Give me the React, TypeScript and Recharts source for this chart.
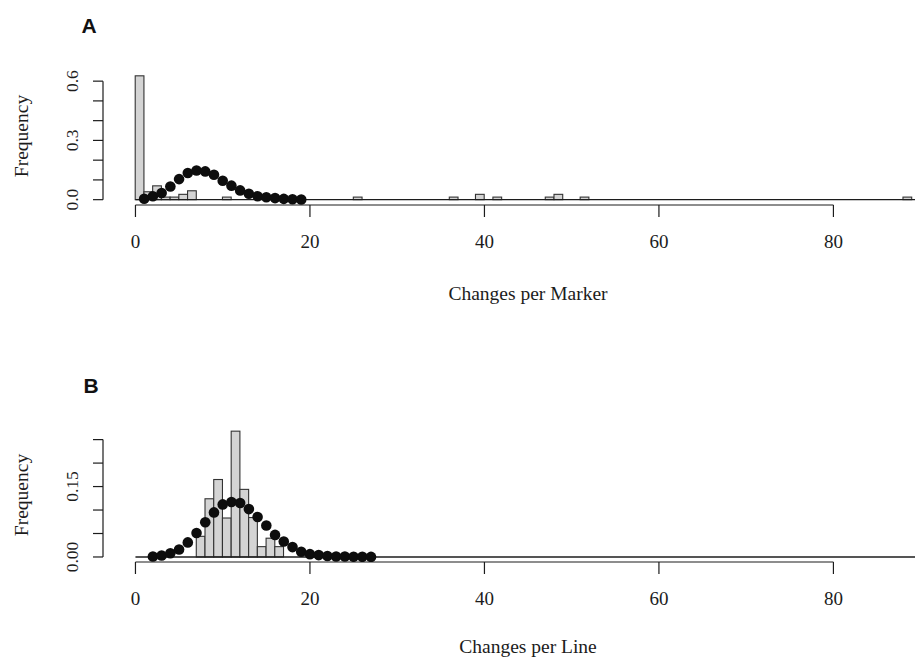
import React from 'react';
import { ComposedChart, Bar, Scatter, XAxis, YAxis, ReferenceLine } from 'recharts';

// Panel A: changes per marker (bin start, frequency)
const markerBins = [0, 1, 2, 3, 4, 5, 6, 10, 25, 36, 39, 41, 47, 48, 51, 88];
const markerFreq = [0.627, 0.04, 0.07, 0.013, 0.013, 0.027, 0.045, 0.013, 0.013, 0.013, 0.027, 0.013, 0.013, 0.027, 0.013, 0.013];
// fitted distribution shown as dots
const markerFitX = [1, 2, 3, 4, 5, 6, 7, 8, 9, 10, 11, 12, 13, 14, 15, 16, 17, 18, 19];
const markerFitY = [0.005, 0.017, 0.034, 0.067, 0.104, 0.135, 0.148, 0.143, 0.126, 0.096, 0.071, 0.047, 0.03, 0.017, 0.012, 0.008, 0.004, 0.002, 0.001];

// Panel B: changes per line
const lineBins = [7, 8, 9, 10, 11, 12, 13, 14, 15, 16];
const lineFreq = [0.044, 0.124, 0.165, 0.083, 0.268, 0.144, 0.084, 0.022, 0.04, 0.022];
const lineFitX = [2, 3, 4, 5, 6, 7, 8, 9, 10, 11, 12, 13, 14, 15, 16, 17, 18, 19, 20, 21, 22, 23, 24, 25, 26, 27];
const lineFitY = [0.001, 0.003, 0.008, 0.016, 0.031, 0.051, 0.074, 0.095, 0.112, 0.117, 0.115, 0.102, 0.085, 0.067, 0.047, 0.033, 0.021, 0.011, 0.006, 0.004, 0.002, 0.001, 0.001, 0.0005, 0.0003, 0.0002];

const xTicks = [0, 20, 40, 60, 80];
const markerYTicks = [0, 0.1, 0.2, 0.3, 0.4, 0.5, 0.6];
const markerYLabels: Record<string, string> = { '0': '0.0', '0.3': '0.3', '0.6': '0.6' };
const lineYTicks = [0, 0.05, 0.1, 0.15, 0.2, 0.25];
const lineYLabels: Record<string, string> = { '0': '0.00', '0.15': '0.15' };

const XMIN = -3.72;
const XMAX = 89.35;
const PLOT_W = 915 - 103;
const BIN_PX = PLOT_W / (XMAX - XMIN); // one unit-wide bin in pixels
const SERIF = '"Liberation Serif", "Times New Roman", serif';
const INK = '#1c1c1c';

const hist = (bins: number[], freq: number[]) => bins.map((b, i) => ({ mid: b + 0.5, freq: freq[i] }));
const fit = (xs: number[], ys: number[]) => xs.map((x, i) => ({ mid: x, fit: ys[i] }));

const Dot = (props: any) => <circle cx={props.cx} cy={props.cy} r={5.3} fill="#0d0d0d" />;

// bar centred on the scaled bin midpoint, full bin width
const HistBar = (props: any) => {
  const { x, width, y, height } = props;
  if (height == null || isNaN(height)) return <g />;
  const cx = x + width / 2;
  return <rect x={cx - BIN_PX / 2} y={y} width={BIN_PX} height={height} fill="#d4d4d4" stroke="#333" strokeWidth={1.1} />;
};

const makeYTick = (labels: Record<string, string>) => (props: any) => {
  const { x, y, payload } = props;
  const lab = labels[String(payload.value)];
  if (!lab) return <g />;
  const bx = x - 13;
  return (
    <text x={bx} y={y} transform={`rotate(-90 ${bx} ${y})`} textAnchor="middle" fontSize={17.5} fontFamily={SERIF} fill={INK}>
      {lab}
    </text>
  );
};

interface PanelProps {
  top: number;
  height: number;
  marginTop: number;
  xAxisHeight: number;
  yDomain: [number, number];
  yTicks: number[];
  yLabels: Record<string, string>;
  bars: { mid: number; freq: number }[];
  dots: { mid: number; fit: number }[];
}

const Panel = ({ top, height, marginTop, xAxisHeight, yDomain, yTicks, yLabels, bars, dots }: PanelProps) => {
  const yTop = yTicks[yTicks.length - 1];
  return (
    <div style={{ position: 'absolute', left: 0, top }}>
      <ComposedChart width={915} height={height} data={bars} margin={{ top: marginTop, right: 0, bottom: 0, left: 63 }}>
        <XAxis
          dataKey="mid"
          type="number"
          domain={[XMIN, XMAX]}
          allowDataOverflow
          ticks={xTicks}
          interval={0}
          height={xAxisHeight}
          axisLine={false}
          tickSize={12}
          tickMargin={18}
          tickLine={{ stroke: INK, strokeWidth: 1.2 }}
          tick={{ fontSize: 19, fontFamily: SERIF, fill: INK }}
        />
        <YAxis
          type="number"
          domain={yDomain}
          allowDataOverflow
          ticks={yTicks}
          interval={0}
          width={40}
          axisLine={false}
          tickSize={10}
          tickLine={{ stroke: INK, strokeWidth: 1.2 }}
          tick={makeYTick(yLabels)}
        />
        <Bar dataKey="freq" shape={HistBar} isAnimationActive={false} />
        <ReferenceLine segment={[{ x: 0, y: 0 }, { x: XMAX, y: 0 }]} stroke={INK} strokeWidth={1.3} ifOverflow="visible" />
        <ReferenceLine segment={[{ x: 0, y: yDomain[0] }, { x: 80, y: yDomain[0] }]} stroke={INK} strokeWidth={1.2} ifOverflow="visible" />
        <ReferenceLine segment={[{ x: XMIN, y: 0 }, { x: XMIN, y: yTop }]} stroke={INK} strokeWidth={1.2} ifOverflow="visible" />
        <Scatter data={dots} dataKey="fit" shape={Dot} isAnimationActive={false} />
      </ComposedChart>
    </div>
  );
};

export default function App() {
  return (
    <div style={{ position: 'absolute', left: 0, top: 0, width: 915, height: 657, overflow: 'hidden', background: '#fff' }}>
      <Panel
        top={0}
        height={275}
        marginTop={69.3}
        xAxisHeight={70}
        yDomain={[-0.027, 0.66]}
        yTicks={markerYTicks}
        yLabels={markerYLabels}
        bars={hist(markerBins, markerFreq)}
        dots={fit(markerFitX, markerFitY)}
      />
      <Panel
        top={400}
        height={257}
        marginTop={26}
        xAxisHeight={95}
        yDomain={[-0.0107, 0.279]}
        yTicks={lineYTicks}
        yLabels={lineYLabels}
        bars={hist(lineBins, lineFreq)}
        dots={fit(lineFitX, lineFitY)}
      />
      <svg width={915} height={657} style={{ position: 'absolute', left: 0, top: 0, pointerEvents: 'none' }}>
        <text x={89} y={33} textAnchor="middle" fontSize={21} fontWeight="bold" fontFamily='"Liberation Sans", Arial, sans-serif' fill="#111">A</text>
        <text x={91} y={393} textAnchor="middle" fontSize={21} fontWeight="bold" fontFamily='"Liberation Sans", Arial, sans-serif' fill="#111">B</text>
        <text x={27.5} y={136} transform="rotate(-90 27.5 136)" textAnchor="middle" fontSize={19.5} fontFamily={SERIF} fill={INK}>Frequency</text>
        <text x={27.5} y={495} transform="rotate(-90 27.5 495)" textAnchor="middle" fontSize={19.5} fontFamily={SERIF} fill={INK}>Frequency</text>
        <text x={528} y={300} textAnchor="middle" fontSize={19.5} fontFamily={SERIF} fill={INK}>Changes per Marker</text>
        <text x={528} y={653} textAnchor="middle" fontSize={19.5} fontFamily={SERIF} fill={INK}>Changes per Line</text>
      </svg>
    </div>
  );
}
